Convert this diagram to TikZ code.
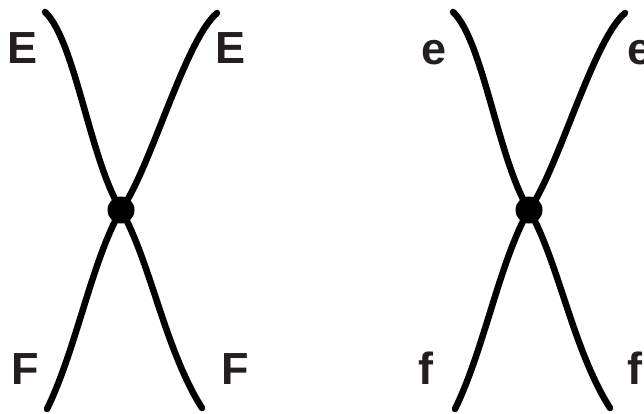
\documentclass[tikz,border=0pt]{standalone}
\usepackage{fontspec}
\setmainfont{Liberation Sans}
\begin{document}
\begin{tikzpicture}[x=1pt,y=-1pt,
  strand/.style={line width=6.5pt,line cap=round,black},
  vertex/.style={circle,fill=black,minimum size=27pt,inner sep=0pt},
  lab/.style={anchor=base,inner sep=0pt,text=labgray,font=\fontsize{45}{45}\selectfont\bfseries}]
\definecolor{labgray}{HTML}{231F20}
\useasboundingbox (0,0) rectangle (644,414);
\clip (0,0) rectangle (644,414);
\begin{scope}
  \coordinate (a1) at (45,12);
  \coordinate (a2) at (217,13);
  \coordinate (a3) at (47,409);
  \coordinate (a4) at (202,408);
  \node[vertex] (v1) at (121,210) {};
  \draw[strand] (a1) .. controls (75,40) and (90,160) .. (v1.center);
  \draw[strand] (a2) .. controls (185,40) and (150,170) .. (v1.center);
  \draw[strand] (v1.center) .. controls (92,260) and (76,350) .. (a3);
  \draw[strand] (v1.center) .. controls (150,260) and (165,350) .. (a4);
  \node[lab] (E1) at (23,64) {E};
  \node[lab] (E2) at (231,64) {E};
  \node[lab] (F1) at (25,384) {F};
  \node[lab] (F2) at (235.5,384) {F};
\end{scope}
\begin{scope}
  \coordinate (b1) at (453,12);
  \coordinate (b2) at (625,13);
  \coordinate (b3) at (455,409);
  \coordinate (b4) at (610,408);
  \node[vertex] (v2) at (529,210) {};
  \draw[strand] (b1) .. controls (483,40) and (498,160) .. (v2.center);
  \draw[strand] (b2) .. controls (593,40) and (558,170) .. (v2.center);
  \draw[strand] (v2.center) .. controls (500,260) and (484,350) .. (b3);
  \draw[strand] (v2.center) .. controls (558,260) and (573,350) .. (b4);
  \node[lab] (e1) at (434,65) {e};
  \node[lab] (e2) at (640,65) {e};
  \node[lab] (f1) at (426,384) {f};
  \node[lab] (f2) at (635,384) {f};
\end{scope}
\end{tikzpicture}
\end{document}
